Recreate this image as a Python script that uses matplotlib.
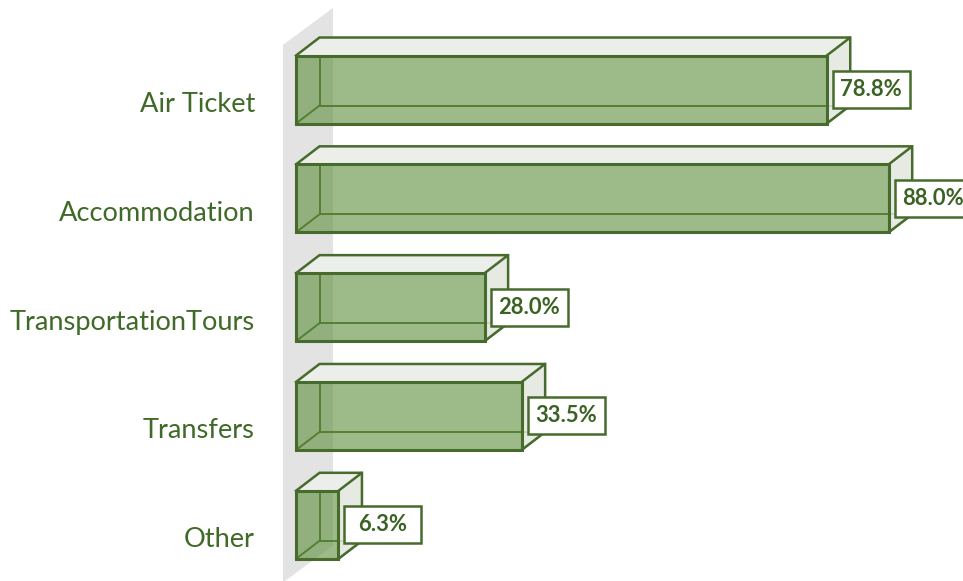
import matplotlib
matplotlib.use("Agg")
import matplotlib.pyplot as plt
from matplotlib.patches import Polygon, Rectangle

# Chart data
categories = ["Air Ticket", "Accommodation", "TransportationTours", "Transfers", "Other"]
values = [78.8, 88.0, 28.0, 33.5, 6.3]
value_labels = ["78.8%", "88.0%", "28.0%", "33.5%", "6.3%"]

# Figure / axes geometry
W, H, DPI = 963, 581, 100
XMIN, XMAX = -43.95, 99.03
YTOP, YBOT = -0.8226, 4.5165

fig = plt.figure(figsize=(W / DPI, H / DPI), dpi=DPI)
ax = fig.add_axes([0, 0, 1, 1])
ax.set_xlim(XMIN, XMAX)
ax.set_ylim(YBOT, YTOP)
ax.axis("off")

PX_X = W / (XMAX - XMIN)   # pixels per percentage point
PX_Y = H / (YBOT - YTOP)   # pixels per category step

# Styling
FRONT = "#5c8e3a"
FRONT_ALPHA = 0.6
TOP_FACE = "#eceeea"
SIDE_FACE = "#e2e7df"
EDGE = "#466b2c"
WALL = "#e3e3e3"
TEXT_GREEN = "#3f6a28"
LABEL_GREEN = "#3a6222"
FONT = "Lato"

half = 34 / PX_Y           # half bar thickness
dx = 23.5 / PX_X           # 3D depth, horizontal
dy = 18 / PX_Y             # 3D depth, vertical (upwards)

# Side wall of the 3D plot area
wall_dx = 50 / PX_X
wall_dy = 37 / PX_Y
wall_x0 = -13 / PX_X
wall_top, wall_bot = -0.41, 4.53
ax.add_patch(Polygon([(wall_x0, wall_top), (wall_x0 + wall_dx, wall_top - wall_dy),
                      (wall_x0 + wall_dx, wall_bot - wall_dy), (wall_x0, wall_bot)],
                     closed=True, facecolor=WALL, edgecolor="none", zorder=1))

for i, v in enumerate(values):
    top, bot = i - half, i + half
    # hidden back edges seen through the translucent faces
    ax.plot([dx, dx], [top - dy, bot - dy], color=EDGE, lw=1.4, zorder=2)
    ax.plot([dx, v + dx], [bot - dy, bot - dy], color=EDGE, lw=1.4, zorder=2)
    ax.plot([0, dx], [bot, bot - dy], color=EDGE, lw=1.4, zorder=2)
    ax.plot([v, v + dx], [bot, bot - dy], color=EDGE, lw=1.4, zorder=2)

    # top face
    ax.add_patch(Polygon([(0, top), (v, top), (v + dx, top - dy), (dx, top - dy)],
                         closed=True, facecolor=TOP_FACE, edgecolor="none", zorder=3))
    # right face
    ax.add_patch(Polygon([(v, top), (v + dx, top - dy), (v + dx, bot - dy), (v, bot)],
                         closed=True, facecolor=SIDE_FACE, alpha=0.85,
                         edgecolor="none", zorder=3))
    # front face
    ax.add_patch(Rectangle((0, top), v, 2 * half, facecolor=FRONT, alpha=FRONT_ALPHA,
                           edgecolor="none", zorder=3))

    # visible edges
    ax.add_patch(Rectangle((0, top), v, 2 * half, facecolor="none", edgecolor=EDGE,
                           lw=2.2, zorder=4))
    ax.plot([0, dx, v + dx, v], [top, top - dy, top - dy, top], color=EDGE, lw=1.8,
            zorder=4, solid_joinstyle="miter")
    ax.plot([v + dx, v + dx, v], [top - dy, bot - dy, bot], color=EDGE, lw=1.8,
            zorder=4, solid_joinstyle="miter")

    # value label box
    bw, bh = 77 / PX_X, 37 / PX_Y
    bx = v + 6 / PX_X
    ax.add_patch(Rectangle((bx, i - bh / 2), bw, bh, facecolor="white", edgecolor=EDGE,
                           lw=1.8, zorder=5))
    ax.text(bx + bw / 2, i, value_labels[i], ha="center", va="center",
            fontsize=15.8, fontweight="bold", color=LABEL_GREEN, family=FONT, zorder=6)

    # category label
    ax.text(-41 / PX_X, i + 22.5 / PX_Y, categories[i], ha="right", va="baseline",
            fontsize=19.6, color=TEXT_GREEN, family=FONT, zorder=6)

fig.savefig("out.png", dpi=DPI, facecolor="white")
